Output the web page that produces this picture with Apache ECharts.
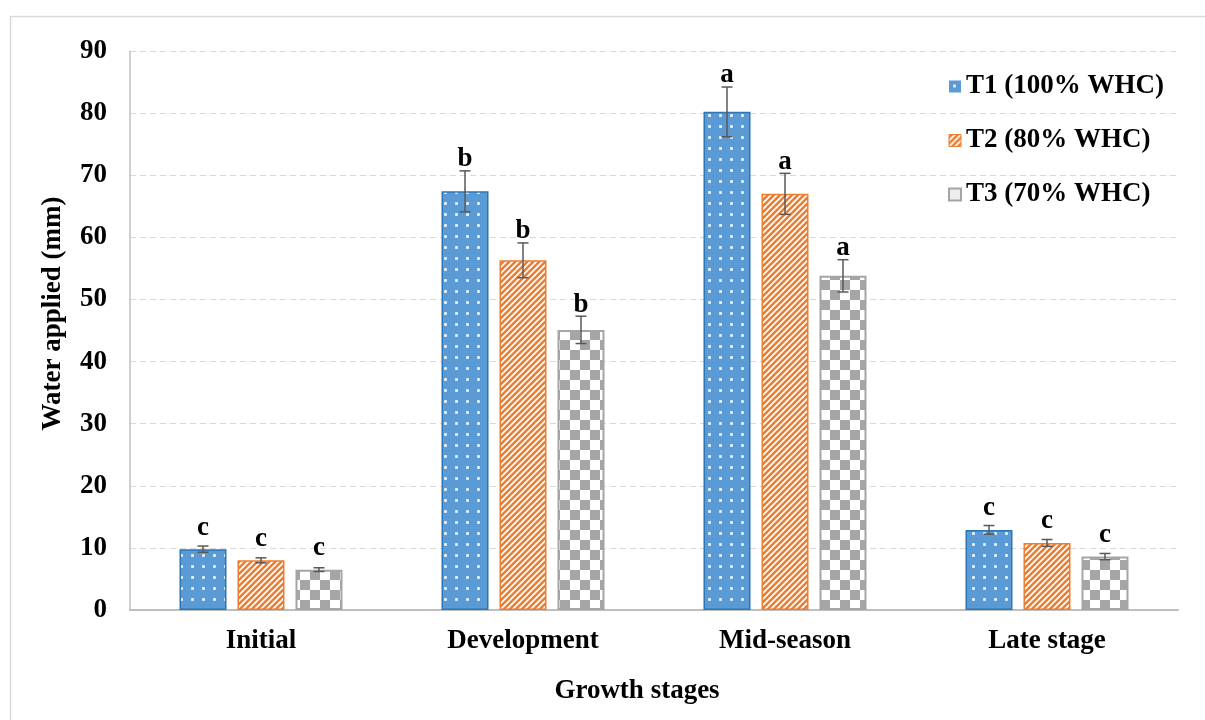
<!DOCTYPE html>
<html>
<head>
<meta charset="utf-8">
<title>Water applied by growth stage</title>
<script src="https://cdn.jsdelivr.net/npm/echarts@6/dist/echarts.min.js"></script>
<style>
  html, body { margin: 0; padding: 0; background: #fff; }
  #chart { width: 1205px; height: 720px; }
</style>
</head>
<body>
<div id="chart"></div>
<script>
// Growth stages and water applied (mm) per treatment, with standard errors
const stages = ['Initial', 'Development', 'Mid-season', 'Late stage'];
const seriesNames = ['T1 (100% WHC)', 'T2 (80% WHC)', 'T3 (70% WHC)'];
const t1 = [9.8, 67.4, 80.2, 12.9];
const t2 = [8.0, 56.3, 67.0, 10.8];
const t3 = [6.5, 45.1, 53.8, 8.6];
const t1Err = [0.5, 3.3, 4.0, 0.7];
const t2Err = [0.4, 2.8, 3.3, 0.55];
const t3Err = [0.3, 2.2, 2.6, 0.5];
// Significance letters per stage
const t1Letters = ['c', 'b', 'a', 'c'];
const t2Letters = ['c', 'b', 'a', 'c'];
const t3Letters = ['c', 'b', 'a', 'c'];
const yTicks = { min: 0, max: 90, interval: 10 };

const values = [t1, t2, t3];
const errors = [t1Err, t2Err, t3Err];
const letters = [t1Letters, t2Letters, t3Letters];

const FONT = '"Liberation Serif", "Times New Roman", serif';
const FS = 27;
const BAR_W = 47;
const BAR_GAP = 11;

// Fill patterns
function dotPattern() {
  const c = document.createElement('canvas');
  c.width = 11; c.height = 11;
  const g = c.getContext('2d');
  g.fillStyle = '#5B9BD5';
  g.fillRect(0, 0, 11, 11);
  g.fillStyle = 'rgba(255,255,255,0.55)';
  g.fillRect(4, 4, 3, 3);
  g.fillStyle = '#ffffff';
  g.fillRect(4.5, 4.5, 2, 2);
  return c;
}
function stripePattern() {
  const s = 6;
  const c = document.createElement('canvas');
  c.width = s; c.height = s;
  const g = c.getContext('2d');
  g.fillStyle = '#ED7D31';
  g.fillRect(0, 0, s, s);
  g.strokeStyle = '#ffffff';
  g.lineWidth = 1.7;
  g.beginPath();
  g.moveTo(-1, s + 1); g.lineTo(s + 1, -1);
  g.moveTo(-1, 1); g.lineTo(1, -1);
  g.moveTo(s - 1, s + 1); g.lineTo(s + 1, s - 1);
  g.stroke();
  return c;
}
function checkerPattern() {
  const s = 10;
  const c = document.createElement('canvas');
  c.width = s * 2; c.height = s * 2;
  const g = c.getContext('2d');
  g.fillStyle = '#ffffff';
  g.fillRect(0, 0, s * 2, s * 2);
  g.fillStyle = '#A5A5A5';
  g.fillRect(0, 0, s, s);
  g.fillRect(s, s, s, s);
  return c;
}

const fills = [
  { image: dotPattern(), repeat: 'repeat' },
  { image: stripePattern(), repeat: 'repeat' },
  { image: checkerPattern(), repeat: 'repeat' }
];
const borders = ['#2E75B6', '#ED7D31', '#A5A5A5'];
const borderWidths = [1.5, 1.5, 2];

const barSeries = seriesNames.map((name, s) => ({
  name: name,
  type: 'bar',
  data: values[s],
  barWidth: BAR_W,
  barGap: (BAR_GAP / BAR_W * 100).toFixed(1) + '%',
  itemStyle: { color: fills[s], borderColor: borders[s], borderWidth: borderWidths[s] },
  emphasis: { disabled: true },
  z: 2
}));

// Error bars and letters, offset to sit on each grouped bar
const errData = [];
for (let s = 0; s < 3; s++) {
  for (let i = 0; i < stages.length; i++) {
    errData.push([i, values[s][i], errors[s][i], s]);
  }
}
const errSeries = {
  type: 'custom',
  data: errData,
  encode: { x: 0, y: 1 },
  z: 5,
  silent: true,
  renderItem: function (params, api) {
    const cat = api.value(0);
    const v = api.value(1);
    const e = api.value(2);
    const s = api.value(3);
    const base = api.coord([cat, v]);
    const x = base[0] + (s - 1) * (BAR_W + BAR_GAP);
    const top = api.coord([cat, v + e])[1];
    const bot = api.coord([cat, v - e])[1];
    const baseline = Math.min(top - 6, base[1] - 16);
    const cap = 5.5;
    const ls = { stroke: '#595959', lineWidth: 1.5 };
    return {
      type: 'group',
      children: [
        { type: 'line', shape: { x1: x, y1: top, x2: x, y2: bot }, style: ls },
        { type: 'line', shape: { x1: x - cap, y1: top, x2: x + cap, y2: top }, style: ls },
        { type: 'line', shape: { x1: x - cap, y1: bot, x2: x + cap, y2: bot }, style: ls },
        {
          type: 'text',
          style: {
            text: letters[s][cat],
            x: x,
            y: baseline + 8,
            align: 'center',
            verticalAlign: 'bottom',
            fontFamily: FONT,
            fontWeight: 'bold',
            fontSize: FS,
            fill: '#000'
          }
        }
      ]
    };
  }
};

const chart = echarts.init(document.getElementById('chart'), null, { renderer: 'canvas' });
chart.setOption({
  backgroundColor: '#ffffff',
  animation: false,
  textStyle: { fontFamily: FONT },
  graphic: [{
    type: 'rect',
    shape: { x: 10.5, y: 16.5, width: 1300, height: 800 },
    style: { fill: 'none', stroke: '#D9D9D9', lineWidth: 1.5 },
    silent: true
  }],
  grid: { left: 130, right: 27, top: 51, bottom: 110 },
  legend: {
    orient: 'vertical',
    left: 948,
    top: 73,
    padding: 0,
    itemGap: 27,
    itemWidth: 12,
    itemHeight: 12,
    icon: 'rect',
    selectedMode: false,
    textStyle: { fontFamily: FONT, fontWeight: 'bold', fontSize: FS, color: '#000' },
    data: [
      { name: seriesNames[0], itemStyle: { color: fills[0], borderColor: '#5B9BD5', borderWidth: 0 } },
      { name: seriesNames[1], itemStyle: { color: fills[1], borderColor: '#ED7D31', borderWidth: 1 } },
      { name: seriesNames[2], itemStyle: { color: '#EDEDED', borderColor: '#A5A5A5', borderWidth: 2 } }
    ]
  },
  xAxis: {
    type: 'category',
    data: stages,
    axisTick: { show: false },
    axisLine: { lineStyle: { color: '#BFBFBF', width: 2 } },
    axisLabel: { color: '#000', fontFamily: FONT, fontWeight: 'bold', fontSize: FS, margin: 18 },
    name: 'Growth stages',
    nameLocation: 'middle',
    nameGap: 68,
    nameTextStyle: { color: '#000', fontFamily: FONT, fontWeight: 'bold', fontSize: FS, padding: [0, 34, 0, 0] }
  },
  yAxis: {
    type: 'value',
    min: yTicks.min,
    max: yTicks.max,
    interval: yTicks.interval,
    axisLine: { show: true, lineStyle: { color: '#BFBFBF', width: 1.5 } },
    axisTick: { show: false },
    splitLine: { lineStyle: { color: '#D9D9D9', type: [6, 4], width: 1 } },
    axisLabel: { color: '#000', fontFamily: FONT, fontWeight: 'bold', fontSize: FS, margin: 23 },
    name: 'Water applied (mm)',
    nameLocation: 'middle',
    nameGap: 63,
    nameRotate: 90,
    nameTextStyle: { color: '#000', fontFamily: FONT, fontWeight: 'bold', fontSize: FS, padding: [0, 0, 0, 34] }
  },
  series: barSeries.concat([errSeries])
});
</script>
</body>
</html>
